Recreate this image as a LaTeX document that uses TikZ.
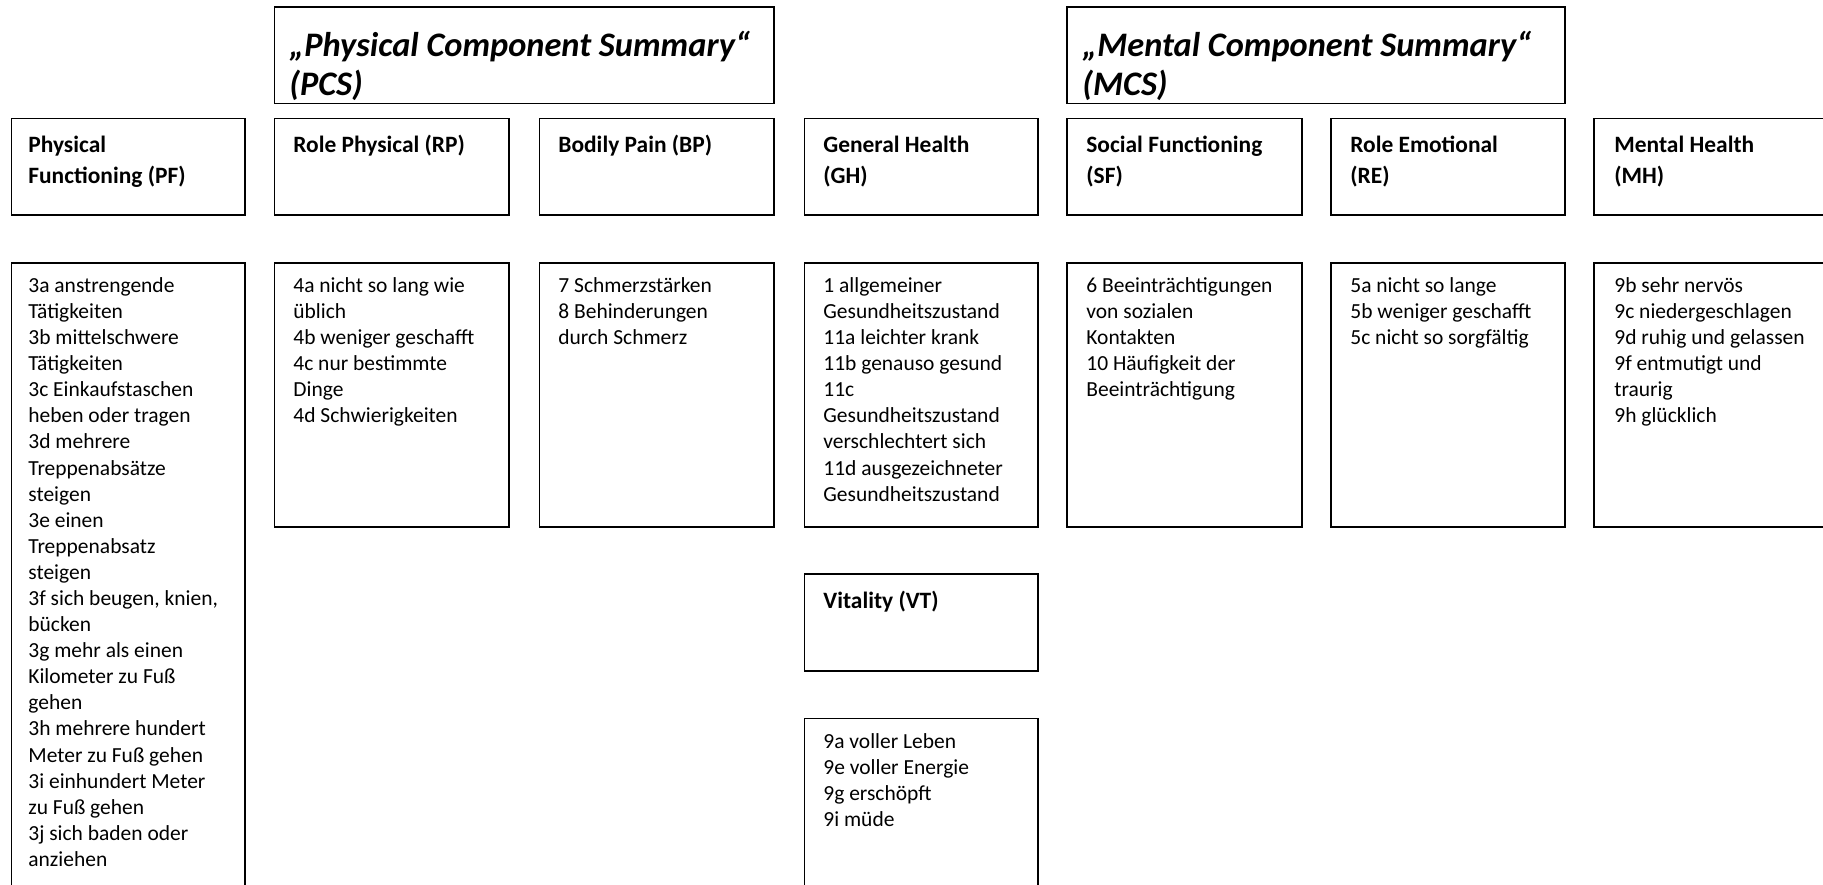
\documentclass[tikz,border=0pt]{standalone}
\usepackage{fontspec}
\setmainfont{Carlito}
\usetikzlibrary{positioning}
\newcommand\sumfnt{\fontsize{17.6}{19.9}\selectfont\bfseries\itshape}
\newcommand\hdfnt{\fontsize{12}{16.1}\selectfont\bfseries}
\newcommand\itfnt{\fontsize{11}{13.36}\selectfont}

\begin{document}
\begin{tikzpicture}[x=0.512pt,y=-0.512pt,
  frame/.style={draw=black,line width=0.9pt},
  summ/.style={anchor=north west,align=left,inner sep=0pt,font=\sumfnt},
  head/.style={anchor=north west,align=left,inner sep=0pt,font=\hdfnt},
  item/.style={anchor=north west,align=left,inner sep=0pt,font=\itfnt}
]
\useasboundingbox (0,0) rectangle (1823,885);
% summary boxes
\draw[frame] (274.4,7) rectangle (774.3,103.5);
\draw[frame] (1067.3,7) rectangle (1564.9,103.5);
\node[summ] (pcs) at (289,29) {\strut„Physical Component Summary“\\(PCS)};
\node[summ] (mcs) at (1082,29) {\strut„Mental Component Summary“\\(MCS)};
% scale boxes
\foreach \xa/\xb in {11.6/245.3,274.4/509.2,539.5/774.3,804.5/1038.2,1067.3/1302.1,1331.2/1564.9,1594/1830}
  \draw[frame] (\xa,118.6) rectangle (\xb,215.1);
\node[head] (pf) at (28,130) {\strut Physical\\Functioning (PF)};
\node[head] (rp) at (293,130) {\strut Role Physical (RP)};
\node[head] (bp) at (558,130) {\strut Bodily Pain (BP)};
\node[head] (gh) at (823,130) {\strut General Health\\(GH)};
\node[head] (sf) at (1086,130) {\strut Social Functioning\\(SF)};
\node[head] (re) at (1350,130) {\strut Role Emotional\\(RE)};
\node[head] (mh) at (1614,130) {\strut Mental Health\\(MH)};
% item boxes
\draw[frame] (11.6,262.8) rectangle (245.3,900);
\foreach \xa/\xb in {274.4/509.2,539.5/774.3,804.5/1038.2,1067.3/1302.1,1331.2/1564.9,1594/1830}
  \draw[frame] (\xa,262.8) rectangle (\xb,526.7);
\node[item] (pfi) at (28,273.7) {\strut 3a anstrengende\\Tätigkeiten\\3b mittelschwere\\Tätigkeiten\\3c Einkaufstaschen\\heben oder tragen\\3d mehrere\\Treppenabsätze\\steigen\\3e einen\\Treppenabsatz\\steigen\\3f sich beugen, knien,\\bücken\\3g mehr als einen\\Kilometer zu Fuß\\gehen\\3h mehrere hundert\\Meter zu Fuß gehen\\3i einhundert Meter\\zu Fuß gehen\\3j sich baden oder\\anziehen};
\node[item] (rpi) at (293,273.7) {\strut 4a nicht so lang wie\\üblich\\4b weniger geschafft\\4c nur bestimmte\\Dinge\\4d Schwierigkeiten};
\node[item] (bpi) at (558,273.7) {\strut 7 Schmerzstärken\\8 Behinderungen\\durch Schmerz};
\node[item] (ghi) at (823,273.7) {\strut 1 allgemeiner\\Gesundheitszustand\\11a leichter krank\\11b genauso gesund\\11c\\Gesundheitszustand\\verschlechtert sich\\11d ausgezeichneter\\Gesundheitszustand};
\node[item] (sfi) at (1086,273.7) {\strut 6 Beeinträchtigungen\\von sozialen\\Kontakten\\10 Häufigkeit der\\Beeinträchtigung};
\node[item] (rei) at (1350,273.7) {\strut 5a nicht so lange\\5b weniger geschafft\\5c nicht so sorgfältig};
\node[item] (mhi) at (1614,273.7) {\strut 9b sehr nervös\\9c niedergeschlagen\\9d ruhig und gelassen\\9f entmutigt und\\traurig\\9h glücklich};
% vitality
\draw[frame] (804.5,574.3) rectangle (1038.2,670.8);
\node[head] (vt) at (823,586) {\strut Vitality (VT)};
\draw[frame] (804.5,718.5) rectangle (1038.2,900);
\node[item] (vti) at (823,729.7) {\strut 9a voller Leben\\9e voller Energie\\9g erschöpft\\9i müde};
\end{tikzpicture}
\end{document}
